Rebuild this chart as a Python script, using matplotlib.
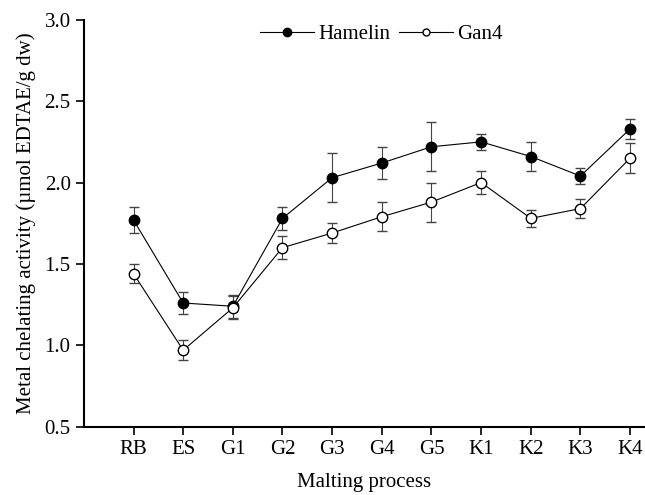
import numpy as np
import matplotlib
matplotlib.use("Agg")
import matplotlib.pyplot as plt
from matplotlib.lines import Line2D

plt.rcParams['font.family'] = ['Liberation Serif', 'DejaVu Serif']

stages = ["RB", "ES", "G1", "G2", "G3", "G4", "G5", "K1", "K2", "K3", "K4"]
hamelin = [1.77, 1.26, 1.24, 1.78, 2.03, 2.12, 2.22, 2.25, 2.16, 2.04, 2.33]
hamelin_err = [0.08, 0.07, 0.07, 0.07, 0.15, 0.10, 0.15, 0.05, 0.09, 0.05, 0.06]
gan4 = [1.44, 0.97, 1.23, 1.60, 1.69, 1.79, 1.88, 2.00, 1.78, 1.84, 2.15]
gan4_err = [0.06, 0.06, 0.07, 0.07, 0.06, 0.09, 0.12, 0.07, 0.05, 0.06, 0.09]

x = np.arange(len(stages))

fig = plt.figure(figsize=(6.45, 4.95), dpi=100)
ax = fig.add_axes([0.130, 0.138, 0.87, 0.822])

ax.errorbar(x, hamelin, yerr=hamelin_err, color="black", lw=0.8, marker="o",
            ms=7.5, mfc="black", mec="black", capsize=3.5, elinewidth=0.8,
            ecolor="#444444", zorder=3)
ax.errorbar(x, gan4, yerr=gan4_err, color="black", lw=0.8, marker="o",
            ms=7.5, mfc="white", mec="black", capsize=3.5, elinewidth=0.8,
            ecolor="#444444", zorder=3)

ax.set_xlim(-1, 10.3)
ax.set_ylim(0.5, 3.0)
ax.set_xticks(x)
ax.set_xticklabels(stages)
ax.set_yticks([0.5, 1.0, 1.5, 2.0, 2.5, 3.0])
ax.set_yticklabels(["0.5", "1.0", "1.5", "2.0", "2.5", "3.0"])
ax.tick_params(direction="out", length=6, width=1.2, labelsize=15)
ax.spines["top"].set_visible(False)
ax.spines["right"].set_visible(False)
ax.spines["left"].set_linewidth(1.5)
ax.spines["bottom"].set_linewidth(1.5)

ax.set_xlabel("Malting process", fontsize=15, labelpad=10)
ax.set_ylabel("Metal chelating activity (\u00b5mol EDTAE/g dw)", fontsize=15, labelpad=6)

handles = [
    Line2D([], [], color="black", lw=0.8, marker="o", ms=6, mfc="black", mec="black"),
    Line2D([], [], color="black", lw=0.8, marker="o", ms=5, mfc="white", mec="black"),
]
ax.legend(handles, ["Hamelin", "Gan4"], loc="center", bbox_to_anchor=(0.53, 0.965),
          ncol=2, frameon=False, fontsize=15, handlelength=2.6,
          columnspacing=0.4, handletextpad=0.2)

fig.savefig("out.png", dpi=100)
